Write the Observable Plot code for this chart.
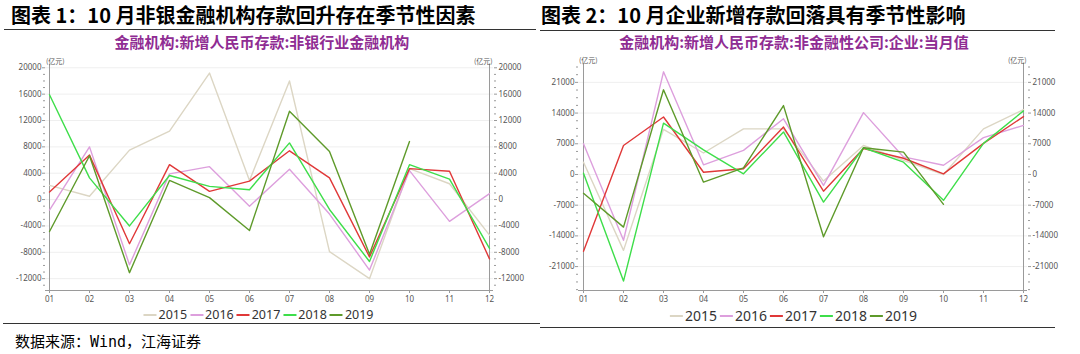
<!DOCTYPE html>
<html><head><meta charset="utf-8">
<script src="https://cdn.jsdelivr.net/npm/d3@7"></script>
<script src="https://cdn.jsdelivr.net/npm/@observablehq/plot@0.6"></script>
<style>
body{margin:0;background:#fff;width:1080px;height:354px;overflow:hidden;position:relative;font-family:"Noto Sans CJK SC",sans-serif;}
.abs{position:absolute;white-space:nowrap;}
.title{font-size:20px;font-weight:bold;color:#000;top:3px;line-height:24px;}
.sub{font-size:15px;font-weight:bold;color:#8f2c93;top:33px;line-height:18px;transform:translateX(-50%);}
.rule{position:absolute;height:0;border-top:1.5px solid #333;}
.unit{font-size:7px;color:#555;line-height:8px;}
.legend{display:flex;align-items:center;font-family:"Noto Sans",sans-serif;color:#333;transform:translateX(-50%);}
.legend span.item{display:inline-flex;align-items:center;margin-right:3px;}
.sw{display:inline-block;height:2px;margin-right:2px;}
.src{font-size:15px;color:#000;font-family:"DejaVu Sans Mono","Noto Sans CJK SC",monospace;top:332px;left:15px;line-height:20px;}
.chart{position:absolute;top:55px;}
</style></head><body>
<div class="abs title" style="left:11px">图表 1：10 月非银金融机构存款回升存在季节性因素</div>
<div class="abs title" style="left:541px">图表 2：10 月企业新增存款回落具有季节性影响</div>
<div class="rule" style="left:4px;width:532px;top:29px"></div>
<div class="rule" style="left:540px;width:515px;top:30px"></div>
<div class="abs sub" style="left:262px">金融机构:新增人民币存款:非银行业金融机构</div>
<div class="abs sub" style="left:794px">金融机构:新增人民币存款:非金融性公司:企业:当月值</div>
<div id="c1" class="chart" style="left:0px"></div>
<div id="c2" class="chart" style="left:540px"></div>
<div class="abs unit" style="left:46px;top:57px">(亿元)</div>
<div class="abs unit" style="left:474px;top:57px">(亿元)</div>
<div class="abs unit" style="left:579px;top:56px">(亿元)</div>
<div class="abs unit" style="left:1008px;top:56px">(亿元)</div>
<div id="lg1" class="abs legend" style="left:260px;top:306px;font-size:12.5px"></div>
<div id="lg2" class="abs legend" style="left:795px;top:306px;font-size:14px"></div>
<div class="rule" style="left:3px;width:537px;top:323px"></div>
<div class="rule" style="left:540px;width:515px;top:327px"></div>
<div class="abs src">数据来源：Wind，江海证券</div>
<script>
const months = ["01","02","03","04","05","06","07","08","09","10","11","12"];
const years = ["2015","2016","2017","2018","2019"];
const colors = ["#dcd6c4","#dd9fdd","#e03838","#3ede4a","#5e9a2a"];

// Chart 1: 非银行业金融机构 新增人民币存款 (亿元)
const nb2015 = [2150, 500, 7500, 10400, 19200, 2900, 18000, -7900, -12000, 4700, 2400, -5400];
const nb2016 = [-1600, 8000, -9900, 3900, 5000, -1000, 4600, -2200, -10700, 4400, -3300, 900];
const nb2017 = [1150, 6750, -6700, 5300, 1250, 2800, 7400, 3300, -8700, 4700, 4300, -9000];
const nb2018 = [15900, 3300, -4000, 3650, 2000, 1500, 8600, -1500, -9400, 5300, 3100, -7400];
const nb2019 = [-4850, 6650, -11100, 2900, 300, -4700, 13400, 7300, -8300, 8800, null, null];
const ticks1 = [-12000, -8000, -4000, 0, 4000, 8000, 12000, 16000, 20000];

// Chart 2: 非金融性公司:企业 新增人民币存款 (亿元)
const en2015 = [2800, -17300, 10300, 4900, 10400, 10400, -1500, 6600, 3200, 0, 10400, 14800];
const en2016 = [7000, -15000, 23400, 2200, 5500, 12700, -2500, 14100, 4000, 2100, 8400, 11200];
const en2017 = [-17500, 6600, 13100, 500, 1300, 10800, -3800, 5900, 3700, 150, 7100, 13200];
const en2018 = [300, -24300, 11700, 5600, 150, 9700, -6300, 6100, 2800, -5900, 7100, 14500];
const en2019 = [-4300, -12000, 19300, -1750, 1500, 15700, -14200, 6100, 5100, -6800, null, null];
const ticks2 = [-21000, -14000, -7000, 0, 7000, 14000, 21000];

function toRows(seriesList) {
  const rows = [];
  seriesList.forEach((s, i) => s.forEach((v, j) => { if (v != null) rows.push({m: months[j], year: years[i], v}); }));
  return rows;
}

function chart({series, domain, ticks, minorStep, mL, mR, mT, mB}) {
  const minors = d3.range(Math.ceil(domain[0] / minorStep) * minorStep, domain[1], minorStep).filter(t => !ticks.includes(t));
  const axisCol = "#9a9a9a";
  return Plot.plot({
    width: 540, height: 255,
    marginLeft: mL, marginRight: mR, marginTop: mT, marginBottom: mB,
    x: {type: "point", domain: months, padding: 0, axis: null},
    y: {domain, axis: null, label: null},
    color: {domain: years, range: colors},
    style: {fontFamily: "Noto Sans, sans-serif", fontSize: "8px", color: "#555", background: "transparent"},
    marks: [
      Plot.ruleY(ticks, {stroke: "#efefef", strokeWidth: 1}),
      Plot.axisY(ticks, {anchor: "left", tickSize: 3, tickPadding: 1, tickFormat: d => String(d), label: null, fontSize: 8, stroke: axisCol, fill: "#555"}),
      Plot.axisY(ticks, {anchor: "right", tickSize: 3, tickPadding: 2, tickFormat: d => String(d), label: null, fontSize: 8, stroke: axisCol, fill: "#555"}),
      Plot.axisY(minors, {anchor: "left", tickSize: 2, tickFormat: () => "", label: null, stroke: axisCol}),
      Plot.axisY(minors, {anchor: "right", tickSize: 2, tickFormat: () => "", label: null, stroke: axisCol}),
      Plot.axisX(months, {anchor: "bottom", tickSize: 3, tickPadding: 3, label: null, fontSize: 8, stroke: axisCol, fill: "#555"}),
      Plot.ruleX([months[0], months[11]], {stroke: axisCol, strokeWidth: 1}),
      Plot.ruleY([domain[0]], {stroke: axisCol, strokeWidth: 1}),
      Plot.line(toRows(series), {x: "m", y: "v", z: "year", stroke: "year", strokeWidth: 1.4})
    ]
  });
}

document.getElementById("c1").append(chart({
  series: [nb2015, nb2016, nb2017, nb2018, nb2019],
  domain: [-13800, 20500], ticks: ticks1, minorStep: 1000,
  mL: 45, mR: 47, mT: 9, mB: 20
}));
document.getElementById("c2").append(chart({
  series: [en2015, en2016, en2017, en2018, en2019],
  domain: [-26450, 25300], ticks: ticks2, minorStep: 1750,
  mL: 38, mR: 53, mT: 8, mB: 20
}));

function legend(id, swW) {
  const el = document.getElementById(id);
  years.forEach((y, i) => {
    const it = document.createElement("span");
    it.className = "item";
    it.innerHTML = `<span class="sw" style="width:${swW}px;background:${colors[i]}"></span>${y}`;
    el.append(it);
  });
}
legend("lg1", 13);
legend("lg2", 13);
</script>
</body></html>
